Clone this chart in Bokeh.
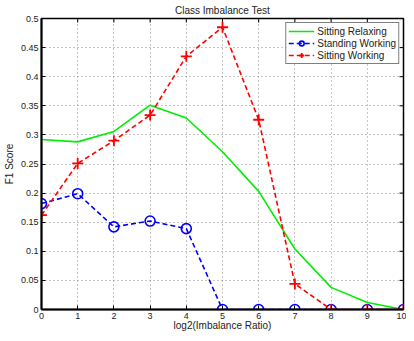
import math
from bokeh.plotting import figure
from bokeh.models import FixedTicker, Range1d, Legend, LegendItem
from bokeh.embed import file_html
from bokeh.resources import INLINE

x = [0, 1, 2, 3, 4, 5, 6, 7, 8, 9, 10]
sitting_relaxing = [0.292, 0.288, 0.306, 0.351, 0.329, 0.271, 0.203, 0.104, 0.038, 0.012, 0.0]
standing_working = [0.182, 0.199, 0.142, 0.152, 0.139, 0.0, 0.0, 0.0, 0.0, 0.0, 0.0]
sitting_working = [0.162, 0.251, 0.290, 0.334, 0.435, 0.485, 0.326, 0.044, 0.0, 0.0, 0.0]

x_ticks = [0, 1, 2, 3, 4, 5, 6, 7, 8, 9, 10]
y_ticks = [0, 0.05, 0.1, 0.15, 0.2, 0.25, 0.3, 0.35, 0.4, 0.45, 0.5]
y_tick_labels = ["0", "0.05", "0.1", "0.15", "0.2", "0.25", "0.3", "0.35", "0.4", "0.45", "0.5"]

FONT = "Liberation Sans"
X_MIN, X_MAX = 0, 10
Y_MIN, Y_MAX = 0, 0.5

p = figure(width=406, height=333, output_backend="svg", toolbar_location=None,
           x_range=Range1d(X_MIN, X_MAX), y_range=Range1d(Y_MIN, Y_MAX),
           title="Class Imbalance Test",
           min_border_left=40, min_border_right=3, min_border_top=16, min_border_bottom=24)

p.title.align = "center"
p.title.text_font = FONT
p.title.text_font_size = "10px"
p.title.text_font_style = "normal"
p.title.text_color = "#222222"
p.title.standoff = 5
p.title.offset = 0

p.background_fill_color = "white"
p.border_fill_color = "white"
p.outline_line_color = "black"
p.outline_line_width = 1.5

for ax in [p.xaxis[0], p.yaxis[0]]:
    ax.major_tick_in = 4
    ax.major_tick_out = 0
    ax.minor_tick_line_color = None
    ax.axis_line_color = "black"
    ax.axis_line_width = 2
    ax.major_tick_line_color = "black"
    ax.major_label_text_font = FONT
    ax.major_label_text_font_size = "9px"
    ax.major_label_text_color = "#222222"
    ax.axis_label_text_font = FONT
    ax.axis_label_text_font_size = "10px"
    ax.axis_label_text_font_style = "normal"
    ax.axis_label_text_color = "#222222"
    ax.major_label_standoff = 3
    ax.axis_label_standoff = 2

p.xaxis[0].ticker = FixedTicker(ticks=x_ticks)
p.yaxis[0].ticker = FixedTicker(ticks=y_ticks)
p.yaxis[0].major_label_overrides = {t: l for t, l in zip(y_ticks, y_tick_labels)}
p.xaxis[0].axis_label = "log2(Imbalance Ratio)"
p.yaxis[0].axis_label = "F1 Score"
p.xaxis[0].major_label_standoff = 3
p.xaxis[0].axis_label_standoff = -2
p.yaxis[0].axis_label_standoff = 3

# inward ticks on the top and right edges (MATLAB box style)
p.ray(x=x_ticks, y=[Y_MAX] * len(x_ticks), length=4, length_units="screen",
      angle=-math.pi / 2, line_color="black", line_width=1)
p.ray(x=[X_MAX] * len(y_ticks), y=y_ticks, length=4, length_units="screen",
      angle=math.pi, line_color="black", line_width=1)

p.xgrid.ticker = FixedTicker(ticks=x_ticks)
p.ygrid.ticker = FixedTicker(ticks=y_ticks)
for g in [p.xgrid[0], p.ygrid[0]]:
    g.grid_line_color = "#8a8a8a"
    g.grid_line_dash = "1 3"
    g.grid_line_width = 1

g1 = p.line(x, sitting_relaxing, line_color="#00ee00", line_width=1.6)
g2 = p.line(x, standing_working, line_color="#0000ff", line_width=1.6, line_dash="5 3")
g2m = p.scatter(x, standing_working, marker="circle", size=10, fill_color=None,
                line_color="#0000ff", line_width=1.6)
g3 = p.line(x, sitting_working, line_color="#ff0000", line_width=1.6, line_dash="5 3")
g3m = p.scatter(x, sitting_working, marker="cross", size=11,
                line_color="#ff0000", line_width=1.8)

legend = Legend(items=[
    LegendItem(label="Sitting Relaxing", renderers=[g1]),
    LegendItem(label="Standing Working", renderers=[g2, g2m]),
    LegendItem(label="Sitting Working", renderers=[g3, g3m]),
], location="top_right")
legend.label_text_font = FONT
legend.label_text_font_size = "10px"
legend.label_text_color = "#222222"
legend.glyph_width = 26
legend.glyph_height = 12
legend.label_height = 12
legend.label_standoff = 3
legend.spacing = 0
legend.padding = 2
legend.margin = 4
legend.border_line_color = "black"
legend.border_line_width = 1
legend.background_fill_alpha = 1
p.add_layout(legend)

open("out.html", "w").write(file_html(p, INLINE))
